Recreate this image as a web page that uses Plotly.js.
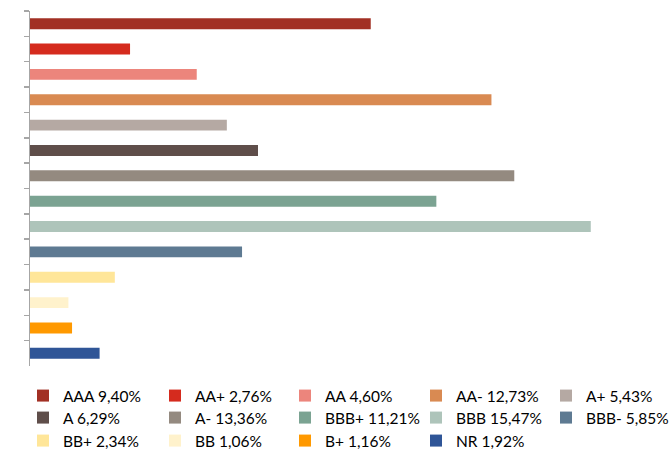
<!DOCTYPE html>
<html>
<head>
<meta charset="utf-8">
<script src="https://cdn.plot.ly/plotly-3.0.1.min.js"></script>
<style>html,body{margin:0;padding:0;background:#fff;}#chart{width:670px;height:449px;}</style>
</head>
<body>
<div id="chart"></div>
<script>
const categories = ["AAA", "AA+", "AA", "AA-", "A+", "A", "A-", "BBB+", "BBB", "BBB-", "BB+", "BB", "B+", "NR"];
const shares = [9.40, 2.76, 4.60, 12.73, 5.43, 6.29, 13.36, 11.21, 15.47, 5.85, 2.34, 1.06, 1.16, 1.92];
const colors = ["#A23024", "#D52B1E", "#EC857C", "#D98A52", "#B5A9A3", "#5F4E4A", "#948A80",
                "#7BA392", "#AEC4BA", "#5E7A92", "#FFE699", "#FFF2CC", "#FF9900", "#2F5597"];

const fmt = v => v.toFixed(2).replace('.', ',') + '%';

// plot area in pixels
const W = 670, H = 449;
const M = {l: 30, r: 10, t: 11, b: 83};
const pw = W - M.l - M.r, ph = H - M.t - M.b;

// legend grid (5 columns x 3 rows, row-major order)
const colSwatchX = [50, 182, 312, 443, 573];
const rowCenterY = [396, 418, 441];

const traces = categories.map((c, i) => ({
  type: 'bar',
  orientation: 'h',
  y: [c],
  x: [shares[i]],
  name: c + ' ' + fmt(shares[i]),
  marker: {color: colors[i]},
  width: 0.43,
  legend: i === 0 ? 'legend' : 'legend' + (i + 1),
  hoverinfo: 'name'
}));

const layout = {
  width: W,
  height: H,
  margin: Object.assign({autoexpand: false}, M),
  paper_bgcolor: '#ffffff',
  plot_bgcolor: '#ffffff',
  barmode: 'overlay',
  font: {family: 'Lato, "Open Sans", sans-serif', size: 15.5, color: '#000'},
  xaxis: {visible: false, range: [0, 17.38], fixedrange: true},
  yaxis: {
    type: 'category',
    categoryorder: 'array',
    categoryarray: categories,
    autorange: 'reversed',
    showticklabels: false,
    ticks: 'outside',
    tickson: 'boundaries',
    ticklen: 5,
    tickwidth: 1.5,
    tickcolor: '#a6a6a6',
    showline: true,
    linecolor: '#a6a6a6',
    linewidth: 1.5,
    showgrid: false,
    zeroline: false
  },
  showlegend: true
};

categories.forEach((c, i) => {
  const col = i % 5, row = Math.floor(i / 5);
  const key = i === 0 ? 'legend' : 'legend' + (i + 1);
  layout[key] = {
    orientation: 'v',
    x: (colSwatchX[col] - 27 - M.l) / pw,
    xanchor: 'left',
    y: (H - M.b - rowCenterY[row]) / ph,
    yanchor: 'middle',
    font: {family: 'Lato, "Open Sans", sans-serif', size: 15.5, color: '#000'},
    bgcolor: 'rgba(0,0,0,0)',
    borderwidth: 0
  };
});

Plotly.newPlot('chart', traces, layout, {displayModeBar: false, staticPlot: true});
</script>
</body>
</html>
